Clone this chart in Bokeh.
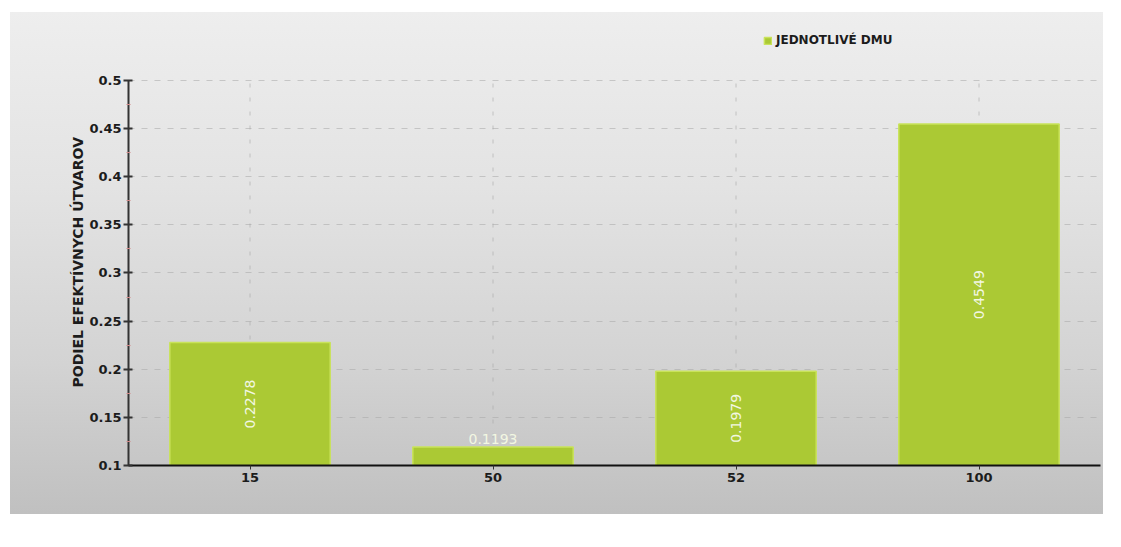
import math
from bokeh.plotting import figure
from bokeh.models import (ColumnDataSource, FixedTicker, CustomJSTickFormatter,
                          Legend, LegendItem, Range1d, FactorRange, Title)
from bokeh.embed import file_html
from bokeh.resources import INLINE
from bokeh.core.properties import value

# ---- data ----
categories = ["15", "50", "52", "100"]
shares = [0.2278, 0.1193, 0.1979, 0.4549]
value_labels = ["0.2278", "0.1193", "0.1979", "0.4549"]
y_ticks = [0.1, 0.15, 0.2, 0.25, 0.3, 0.35, 0.4, 0.45, 0.5]
series_name = "JEDNOTLIVÉ DMU"
y_title = "PODIEL EFEKTÍVNYCH ÚTVAROV"

BASE = y_ticks[0]
TOP = y_ticks[-1]
RANGE_TOP = 0.5623   # extra head-room above the axis for the legend
FONT = "DejaVu Sans"
TEXT_COLOR = "#1c1c1c"

p = figure(x_range=FactorRange(*categories, range_padding=0),
           y_range=Range1d(BASE, RANGE_TOP),
           width=1093, height=502,
           output_backend="svg", toolbar_location=None,
           min_border_left=118, min_border_right=3,
           min_border_top=8, min_border_bottom=49,
           margin=(12, 0, 0, 10))

p.background_fill_alpha = 0
p.border_fill_alpha = 0
p.outline_line_color = None
p.styles = {"background": "linear-gradient(to bottom, #eeeeee 0%, #e3e3e3 35%, #d3d3d3 70%, #c0c0c0 100%)"}

# grid (vertical lines limited to the axis extent)
p.xgrid.visible = False
p.segment(x0=categories, y0=[BASE] * len(categories), x1=categories, y1=[TOP] * len(categories),
          line_color="#a8a8a8", line_alpha=0.6, line_dash="4 10", line_width=1, level="underlay")
p.ygrid.grid_line_color = "#a8a8a8"
p.ygrid.grid_line_alpha = 0.55
p.ygrid.grid_line_dash = "6 7"

src = ColumnDataSource(dict(cat=categories, val=shares, lab=value_labels))
bars = p.vbar(x="cat", top="val", bottom=BASE, width=0.66, source=src,
              fill_color="#abc934", line_color="#c9e35a", line_width=1.5)

# value labels: inside (rotated) for tall bars, above for short ones
thr = (TOP - BASE) * 0.12
in_cat, in_y, in_lab, out_cat, out_y, out_lab = [], [], [], [], [], []
for c, v, l in zip(categories, shares, value_labels):
    if v - BASE >= thr:
        in_cat.append(c); in_y.append((BASE + v) / 2); in_lab.append(l)
    else:
        out_cat.append(c); out_y.append(v); out_lab.append(l)

p.text(x=in_cat, y=in_y, text=in_lab, angle=math.pi / 2,
       text_align="center", text_baseline="middle",
       text_color="#f2f7e2", text_font=value(FONT), text_font_size="14px")
p.text(x=out_cat, y=out_y, text=out_lab, y_offset=-3,
       text_align="center", text_baseline="bottom",
       text_color="#f2f7e2", text_font=value(FONT), text_font_size="14px")

# y axis
minor = [(a + b) / 2 for a, b in zip(y_ticks[:-1], y_ticks[1:])]
p.yaxis.ticker = FixedTicker(ticks=y_ticks, minor_ticks=minor)
p.yaxis.bounds = (BASE, TOP)
p.yaxis.formatter = CustomJSTickFormatter(code="return String(+tick.toFixed(3));")
p.yaxis.axis_line_color = "#333333"
p.yaxis.axis_line_width = 2
p.yaxis.major_tick_line_color = "#333333"
p.yaxis.major_tick_line_width = 2
p.yaxis.major_tick_in = 4
p.yaxis.major_tick_out = 5
p.yaxis.minor_tick_line_color = "#d08a8a"
p.yaxis.minor_tick_in = 2
p.yaxis.minor_tick_out = 2
p.yaxis.major_label_standoff = 2
p.yaxis.major_label_text_font = FONT
p.yaxis.major_label_text_font_size = "13px"
p.yaxis.major_label_text_font_style = "bold"
p.yaxis.major_label_text_color = TEXT_COLOR

# y axis title, centred on the 0.1-0.5 span (not on the extended frame)
p.add_layout(Title(text=y_title, align="left", offset=78, standoff=2,
                   text_font=FONT, text_font_size="14px", text_font_style="bold",
                   text_color=TEXT_COLOR), "left")

# x axis
p.xaxis.axis_line_color = "#111111"
p.xaxis.axis_line_width = 2
p.xaxis.major_tick_line_color = "#333333"
p.xaxis.major_tick_in = 0
p.xaxis.major_tick_out = 4
p.xaxis.major_label_standoff = 3
p.xaxis.major_label_text_font = FONT
p.xaxis.major_label_text_font_size = "13px"
p.xaxis.major_label_text_font_style = "bold"
p.xaxis.major_label_text_color = TEXT_COLOR

# legend
legend = Legend(items=[LegendItem(label=series_name, renderers=[bars])],
                location=(635, 418), background_fill_alpha=0, border_line_alpha=0,
                label_text_font=FONT, label_text_font_size="12px",
                label_text_font_style="bold", label_text_color=TEXT_COLOR,
                glyph_width=9, glyph_height=9, padding=0, margin=0,
                spacing=0, label_standoff=4, label_height=12)
p.add_layout(legend, "center")

open("out.html", "w").write(file_html(p, INLINE))
